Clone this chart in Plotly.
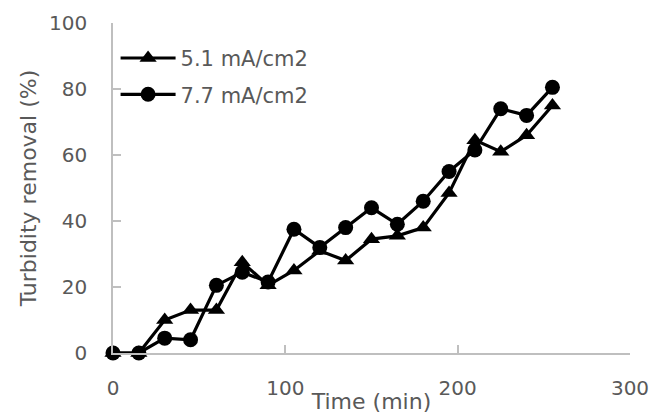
import plotly.graph_objects as go

time_min = [0, 15, 30, 45, 60, 75, 90, 105, 120, 135, 150, 165, 180, 195, 210, 225, 240, 255]
removal_51 = [0, 0, 10, 13, 13, 27.5, 20.5, 25, 31, 28, 34.5, 35.5, 38, 48.5, 64.5, 61, 66, 75]
removal_77 = [0, 0, 4.5, 4, 20.5, 24.5, 21.5, 37.5, 32, 38, 44, 39, 46, 55, 61.5, 74, 72, 80.5]
series_names = ["5.1 mA/cm2", "7.7 mA/cm2"]
x_ticks = [0, 100, 200, 300]
y_ticks = [0, 20, 40, 60, 80, 100]

FONT = "DejaVu Sans"
GRAY = "#595959"
AXIS = "#bfbfbf"

fig = go.Figure()
fig.add_trace(go.Scatter(
    x=time_min, y=removal_51, name=series_names[0], mode="lines+markers",
    line=dict(color="black", width=3.2),
    marker=dict(symbol="triangle-up", size=15, color="black"),
    cliponaxis=False, legendgroup="a",
))
fig.add_trace(go.Scatter(
    x=time_min, y=removal_77, name=series_names[1], mode="lines+markers",
    line=dict(color="black", width=3.2),
    marker=dict(symbol="circle", size=15, color="black"),
    cliponaxis=False, legendgroup="b",
))

fig.update_layout(
    width=661, height=414,
    margin=dict(l=113, r=31, t=23, b=61, autoexpand=False),
    paper_bgcolor="white", plot_bgcolor="white",
    font=dict(family=FONT, color=GRAY, size=20),
    showlegend=True,
    legend=dict(
        x=0.005, y=0.955, xanchor="left", yanchor="top",
        bgcolor="rgba(0,0,0,0)", font=dict(family=FONT, size=21, color=GRAY),
        traceorder="grouped", tracegroupgap=6, itemwidth=55,
    ),
    xaxis=dict(
        range=[0, 300], tickvals=x_ticks, ticks="inside", ticklen=8,
        tickcolor=AXIS, tickwidth=1.5, showline=True, linecolor=AXIS, linewidth=1.5,
        showgrid=False, zeroline=False, ticklabelstandoff=16, automargin=False,
        tickfont=dict(family=FONT, size=20, color=GRAY),
        title=dict(text="Time (min)", standoff=0,
                   font=dict(family=FONT, size=22, color=GRAY)),
    ),
    yaxis=dict(
        range=[0, 100], tickvals=y_ticks, ticks="inside", ticklen=8,
        tickcolor=AXIS, tickwidth=1.5, showline=True, linecolor=AXIS, linewidth=1.5,
        showgrid=False, zeroline=False, ticklabelstandoff=20, automargin=False,
        tickfont=dict(family=FONT, size=20, color=GRAY),
        title=dict(text="Turbidity removal (%)", standoff=6,
                   font=dict(family=FONT, size=22, color=GRAY)),
    ),
)

fig.write_html("out.html")
